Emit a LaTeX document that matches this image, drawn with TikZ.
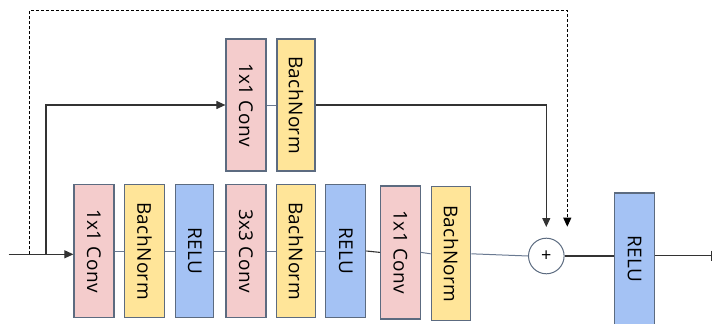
\documentclass[tikz,border=0pt]{standalone}
\usepackage{fontspec}
\setmainfont{Open Sans}
\newfontfamily\lblfont[LetterSpace=2]{Open Sans}
\usetikzlibrary{arrows.meta}
\definecolor{cpink}{HTML}{F4CCCC}
\definecolor{cyel}{HTML}{FFE599}
\definecolor{cblue}{HTML}{A4C2F4}
\definecolor{cbord}{HTML}{5C6B80}
\definecolor{clink}{HTML}{6A7A92}
\definecolor{cdark}{HTML}{333333}
\tikzset{
  blk/.style={draw=cbord, line width=1.2pt, minimum width=40pt, minimum height=133pt, inner sep=0pt, font=\lblfont\fontsize{19}{19}\selectfont},
  conv/.style={blk, fill=cpink},
  bn/.style={blk, fill=cyel},
  relu/.style={blk, fill=cblue},
  link/.style={draw=clink, line width=1pt},
  wire/.style={draw=cdark, line width=1.1pt},
  arr/.style={wire, -{Triangle[length=9pt,width=8pt]}},
  dsh/.style={draw=black, line width=1pt, dash pattern=on 3pt off 2pt},
}
\newcommand{\rt}[1]{\rotatebox{-90}{#1}}
\begin{document}
\begin{tikzpicture}[x=1pt,y=-1pt]
\useasboundingbox (0,0) rectangle (713,324);
% bottom chain
\node[conv, minimum width=40pt] (c1) at (94,251) {\rt{1x1 Conv}};
\node[bn, minimum width=39.5pt] (b1) at (144.5,251) {\rt{BachNorm}};
\node[relu, minimum width=38pt] (r1) at (194.7,251) {\rt{RELU}};
\node[conv, minimum width=40pt] (c2) at (246,251) {\rt{3x3 Conv}};
\node[bn, minimum width=38.5pt] (b2) at (296,251) {\rt{BachNorm}};
\node[relu, minimum width=40pt] (r2) at (345.7,251) {\rt{RELU}};
\node[conv, minimum width=39.5pt] (c3) at (400.5,252.4) {\rt{1x1 Conv}};
\node[bn, minimum width=39.5pt, minimum height=134pt] (b3) at (451,253.8) {\rt{BachNorm}};
% top branch
\node[conv, minimum width=40pt, minimum height=132pt] (tc) at (246,105) {\rt{1x1 Conv}};
\node[bn, minimum width=38pt, minimum height=132pt] (tb) at (296,105) {\rt{BachNorm}};
% sum and final relu
\node[circle, draw=cbord, line width=1pt, minimum size=35.6pt, inner sep=0pt, font=\fontsize{18}{18}\selectfont] (plus) at (546.3,256) {+};
\node[relu, minimum width=39.6pt, minimum height=132pt] (r4) at (634.5,259) {\rt{RELU}};
% coordinates
\coordinate (in) at (8.7,254.3);
\coordinate (s1) at (46,254.3);
\coordinate (d1) at (29.5,254.3);
\coordinate (dtop) at (29.5,10.7);
\coordinate (d2) at (567.3,226.7);
\coordinate (p1) at (546.3,227);
\coordinate (out) at (712,255.7);
% connectors
\draw[arr] (in) -- (in -| c1.west);
\draw[arr] (s1) |- (tc.west);
\draw[dsh, -{Triangle[length=9pt,width=8pt]}] (d1) -- (dtop) -| (d2);
\draw[link] (tc.east) -- (tb.west);
\draw[arr] (tb.east) -| (p1);
\draw[link] (c1.east) -- (b1.west);
\draw[link] (b1.east) -- (r1.west);
\draw[link] (r1.east) -- (c2.west);
\draw[link] (c2.east) -- (b2.west);
\draw[link] (b2.east) -- (r2.west);
\draw[wire] (r2.east) -- (c3.west);
\draw[link] (c3.east) -- (b3.west);
\draw[link] (b3.east) -- (plus.west);
\draw[wire] (plus.east) -- (plus.east -| r4.west);
\draw[wire, -{Bar[width=10pt]}] (r4.east |- out) -- (out);
\end{tikzpicture}
\end{document}
